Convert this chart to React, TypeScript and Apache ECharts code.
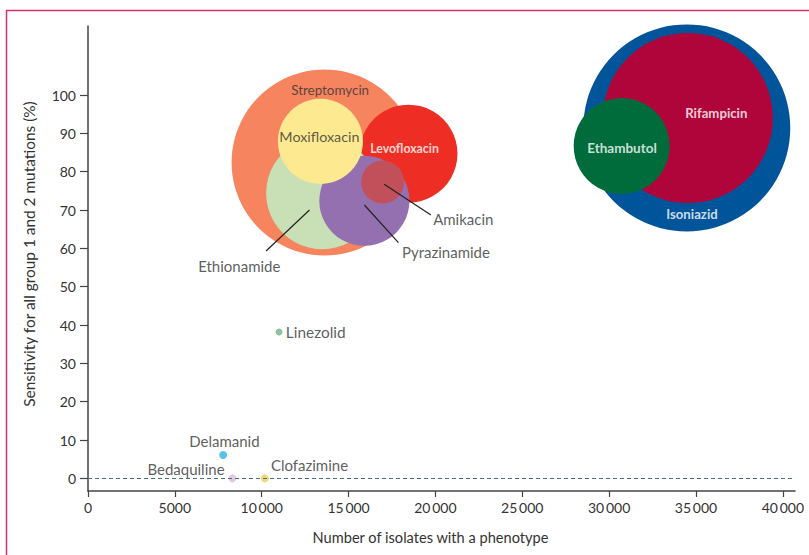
import React, { useEffect, useRef } from 'react';
import * as echarts from 'echarts';

// ---- data ----
const drugs = [
  'Streptomycin', 'Levofloxacin', 'Ethionamide', 'Pyrazinamide', 'Moxifloxacin', 'Amikacin',
  'Isoniazid', 'Rifampicin', 'Ethambutol', 'Linezolid', 'Delamanid', 'Bedaquiline', 'Clofazimine',
];
const isolatesWithPhenotype = [13620, 18450, 13480, 15910, 13380, 16960, 34470, 34530, 30720, 11000, 7780, 8310, 10180];
const sensitivity = [82.4, 84.7, 74.4, 72.4, 87.9, 77.3, 91.4, 94.0, 86.7, 38.2, 6.1, 0, 0];
const bubbleArea = [8650, 2400, 3140, 2030, 1810, 460, 10710, 7230, 2300, 12, 16, 16, 16];

// axis ranges / ticks
const X_TICK_MIN = 0, X_TICK_MAX = 40000, X_TICK_STEP = 5000, X_AXIS_END = 40700;
const Y_TICK_MIN = 0, Y_TICK_MAX = 100, Y_TICK_STEP = 10, Y_AXIS_START = -3.3, Y_AXIS_END = 118;

// label annotations (data coordinates)
const labelNames = ['Streptomycin', 'Moxifloxacin', 'Levofloxacin', 'Amikacin', 'Pyrazinamide', 'Ethionamide',
  'Rifampicin', 'Ethambutol', 'Isoniazid', 'Linezolid', 'Delamanid', 'Bedaquiline', 'Clofazimine'];
const labelX = [13940, 13320, 18220, 19870, 18070, 8710, 36170, 30740, 34770, 11390, 7850, 5640, 12750];
const labelY = [101.4, 89.1, 86.1, 67.6, 59.0, 55.5, 95.2, 86.3, 68.9, 38.2, 9.8, 2.5, 3.4];

// leader lines (data coordinates): [x1, y1, x2, y2]
const leaderAmikacin = [17050, 76.7, 19740, 68.7];
const leaderPyrazinamide = [15910, 71.3, 17870, 61.5];
const leaderEthionamide = [12750, 70.0, 10250, 59.3];

// ---- styles ----
const colors: Record<string, string> = {
  Streptomycin: '#f5845f', Levofloxacin: '#ee2e24', Ethionamide: '#c9dfb5', Pyrazinamide: '#9470b0',
  Moxifloxacin: '#fde98f', Amikacin: '#c2505b', Isoniazid: '#00559a', Rifampicin: '#b0053a',
  Ethambutol: '#006c3b', Linezolid: '#8fc0a0', Delamanid: '#59c2e8', Bedaquiline: '#e6c9df', Clofazimine: '#f2d779',
};
const labelStyle: Record<string, { pos: string; size: number; bold?: boolean; white?: boolean }> = {
  Streptomycin: { pos: 'inside', size: 13.4 },
  Moxifloxacin: { pos: 'inside', size: 14.3 },
  Levofloxacin: { pos: 'inside', size: 12.3, bold: true, white: true },
  Amikacin: { pos: 'right', size: 15 },
  Pyrazinamide: { pos: 'right', size: 15 },
  Ethionamide: { pos: 'inside', size: 15 },
  Rifampicin: { pos: 'inside', size: 13.2, bold: true, white: true },
  Ethambutol: { pos: 'inside', size: 13.5, bold: true, white: true },
  Isoniazid: { pos: 'inside', size: 13.2, bold: true, white: true },
  Linezolid: { pos: 'right', size: 15.4 },
  Delamanid: { pos: 'inside', size: 15 },
  Bedaquiline: { pos: 'inside', size: 15 },
  Clofazimine: { pos: 'inside', size: 15 },
};

const FONT = 'Lato, "Noto Sans", sans-serif';
const TEXT = '#333333';
const AXIS = '#444444';

// layout
const W = 809, H = 555;
const G = { left: 88, right: 14, top: 26, bottom: 64 };
const plotW = W - G.left - G.right;
const plotH = H - G.top - G.bottom;
const pxX = (v: number) => G.left + (v / X_AXIS_END) * plotW;
const pxY = (v: number) => G.top + ((Y_AXIS_END - v) / (Y_AXIS_END - Y_AXIS_START)) * plotH;

const fmtX = (v: number) => {
  const s = String(v);
  return v >= 10000 ? s.slice(0, s.length - 3) + '\u2009' + s.slice(-3) : s;
};

const leader = (l: number[]) => ({
  type: 'line',
  xAxisIndex: 0, yAxisIndex: 0,
  data: [[l[0], l[1]], [l[2], l[3]]],
  symbol: 'none',
  silent: true,
  z: 5,
  lineStyle: { color: '#222', width: 1.2 },
});

export default function App() {
  const ref = useRef<HTMLDivElement>(null);
  useEffect(() => {
    const chart = echarts.init(ref.current!, null, { renderer: 'svg' });
    const tickGrid = {
      left: G.left,
      right: W - pxX(X_TICK_MAX),
      top: pxY(Y_TICK_MAX),
      bottom: H - pxY(Y_TICK_MIN),
    };
    const xOffset = (H - G.bottom) - pxY(Y_TICK_MIN);
    chart.setOption({
      animation: false,
      textStyle: { fontFamily: FONT },
      grid: [
        { ...G, containLabel: false },
        { ...tickGrid, containLabel: false },
      ],
      xAxis: [
        {
          gridIndex: 0, type: 'value', min: 0, max: X_AXIS_END,
          axisLine: { show: true, onZero: false, lineStyle: { color: AXIS, width: 1.5 } },
          axisTick: { show: false }, axisLabel: { show: false }, splitLine: { show: false },
        },
        {
          gridIndex: 1, type: 'value', min: X_TICK_MIN, max: X_TICK_MAX, interval: X_TICK_STEP,
          position: 'bottom', offset: xOffset,
          axisLine: { show: false, onZero: false },
          axisTick: { show: true, length: 6, lineStyle: { color: AXIS, width: 1.2 } },
          axisLabel: { formatter: fmtX, color: TEXT, fontSize: 14, margin: 9, fontFamily: FONT },
          splitLine: { show: false },
        },
      ],
      yAxis: [
        {
          gridIndex: 0, type: 'value', min: Y_AXIS_START, max: Y_AXIS_END,
          axisLine: { show: true, onZero: false, lineStyle: { color: AXIS, width: 1.5 } },
          axisTick: { show: false }, axisLabel: { show: false }, splitLine: { show: false },
        },
        {
          gridIndex: 1, type: 'value', min: Y_TICK_MIN, max: Y_TICK_MAX, interval: Y_TICK_STEP,
          position: 'left',
          axisLine: { show: false, onZero: false },
          axisTick: { show: true, length: 8, lineStyle: { color: AXIS, width: 1.2 } },
          axisLabel: { color: TEXT, fontSize: 14, margin: 12, fontFamily: FONT },
          splitLine: { show: false },
        },
      ],
      series: [
        {
          type: 'scatter',
          xAxisIndex: 0, yAxisIndex: 0,
          silent: true,
          z: 2,
          data: drugs.map((d, i) => ({
            name: d,
            value: [isolatesWithPhenotype[i], sensitivity[i]],
            symbolSize: 2 * Math.sqrt(bubbleArea[i]),
            itemStyle: { color: colors[d], opacity: 1 },
          })),
          markLine: {
            silent: true,
            symbol: 'none',
            label: { show: false },
            lineStyle: { color: '#4d6f82', width: 1, type: [4, 3] },
            data: [{ yAxis: 0 }],
          },
        },
        leader(leaderAmikacin),
        leader(leaderPyrazinamide),
        leader(leaderEthionamide),
        {
          type: 'scatter',
          xAxisIndex: 0, yAxisIndex: 0,
          silent: true,
          z: 6,
          symbolSize: 0,
          data: labelNames.map((n, i) => {
            const st = labelStyle[n];
            return {
              name: n,
              value: [labelX[i], labelY[i]],
              label: {
                show: true,
                formatter: n,
                position: st.pos,
                distance: 0,
                fontSize: st.size,
                fontWeight: st.bold ? 'bold' : 'normal',
                color: st.white ? '#ffffff' : TEXT,
                fontFamily: FONT,
              },
            };
          }),
        },
      ],
      graphic: [
        {
          type: 'rect', silent: true, z: 10,
          shape: { x: 6.5, y: 10.5, width: 900, height: 700 },
          style: { fill: 'none', stroke: '#d8326a', lineWidth: 1.5 },
        },
        {
          type: 'text', silent: true, x: 430.5, y: 537,
          style: { text: 'Number of isolates with a phenotype', fontSize: 14.6, fill: TEXT, fontFamily: FONT, align: 'center', verticalAlign: 'middle' },
        },
        {
          type: 'text', silent: true, x: 29, y: 254, rotation: Math.PI / 2,
          style: { text: 'Sensitivity for all group 1 and 2 mutations (%)', fontSize: 15.4, fill: TEXT, fontFamily: FONT, align: 'center', verticalAlign: 'middle' },
        },
      ],
    });
    return () => chart.dispose();
  }, []);
  return <div ref={ref} style={{ position: 'fixed', left: 0, top: 0, width: W, height: H, background: '#fff' }} />;
}
